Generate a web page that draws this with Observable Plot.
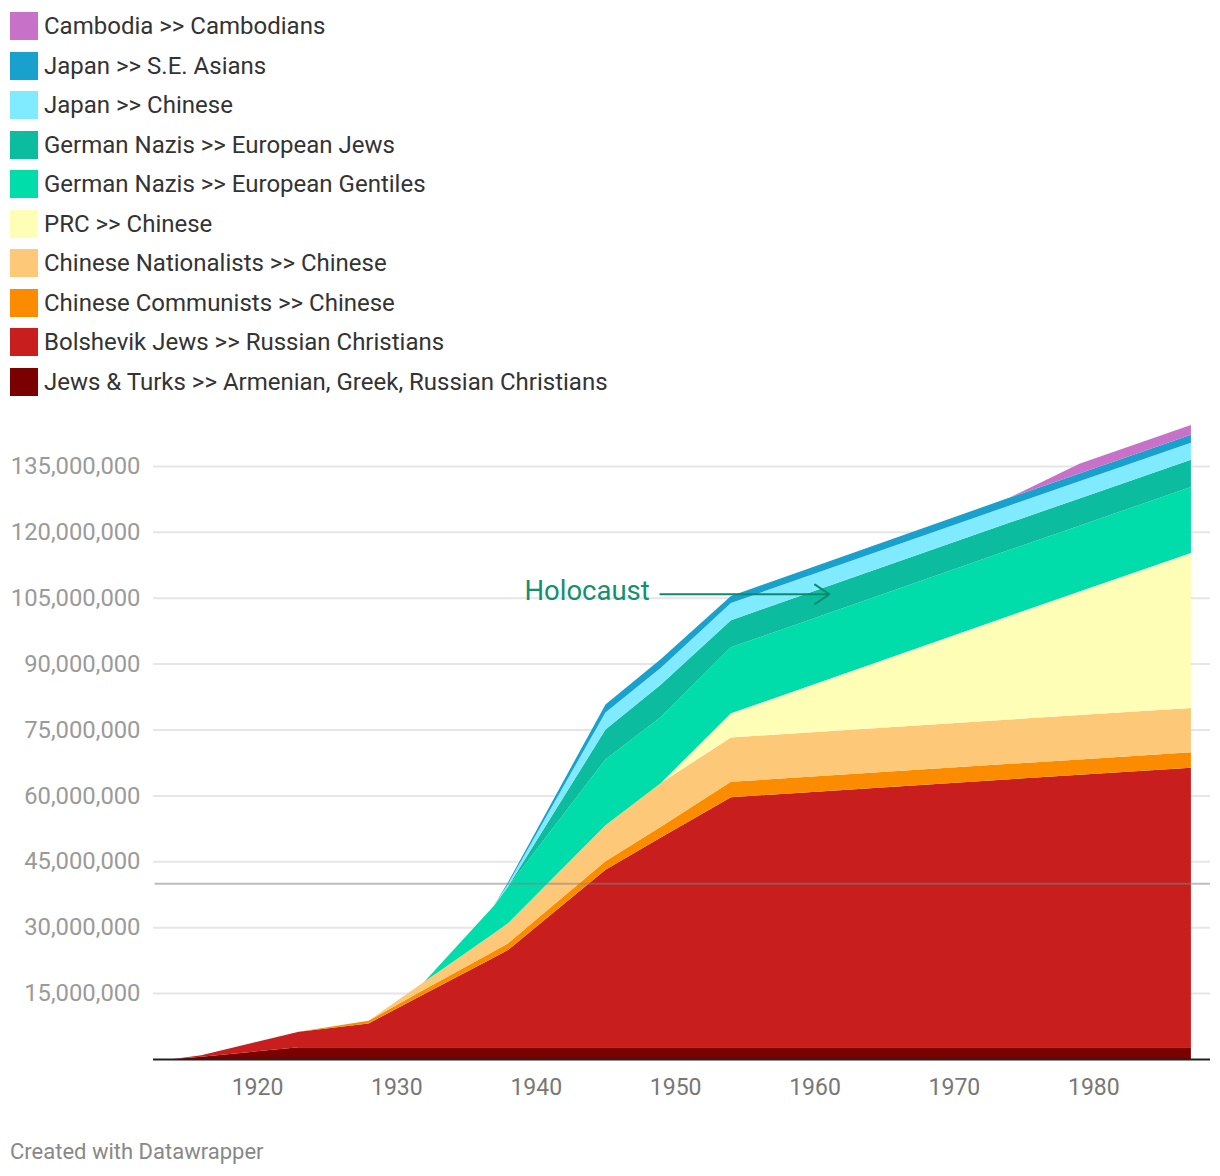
<!DOCTYPE html>
<html>
<head>
<meta charset="utf-8">
<script src="https://cdn.jsdelivr.net/npm/d3@7"></script>
<script src="https://cdn.jsdelivr.net/npm/@observablehq/plot@0.6"></script>
<style>
  html, body { margin: 0; padding: 0; background: #fff; font-family: Roboto, "Noto Sans", sans-serif; }
  #legend { position: absolute; left: 10px; top: 12px; }
  .item { display: flex; align-items: center; height: 28px; margin-bottom: 11.56px; font-size: 24px; color: #333; white-space: nowrap; }
  .sw { width: 28px; height: 28px; margin-right: 6px; flex: none; }
  #chart { position: absolute; left: 0; top: 410px; }
  #caption { position: absolute; left: 10px; top: 1140px; font-size: 22px; line-height: 24px; color: #888; }
</style>
</head>
<body>
<div id="legend"></div>
<div id="chart"></div>
<div id="caption">Created with Datawrapper</div>
<script>
// ---- data (values in millions of deaths, cumulative) ----
const years = [1914, 1916, 1923, 1928, 1932, 1937, 1938, 1945, 1949, 1954, 1974, 1979, 1987];

const seriesNames = [
  "Jews & Turks >> Armenian, Greek, Russian Christians",
  "Bolshevik Jews >> Russian Christians",
  "Chinese Communists >> Chinese",
  "Chinese Nationalists >> Chinese",
  "PRC >> Chinese",
  "German Nazis >> European Gentiles",
  "German Nazis >> European Jews",
  "Japan >> Chinese",
  "Japan >> S.E. Asians",
  "Cambodia >> Cambodians"
];
const seriesColors = ["#7b0000", "#c81e1e", "#fb8c00", "#fdc878", "#fefeb6", "#00dcaa", "#0cbc9f", "#80eaff", "#18a1cd", "#c771c8"];

const jewsTurks     = [0, 0.5, 2.7, 2.7, 2.7, 2.7, 2.7, 2.7, 2.7, 2.7, 2.7, 2.7, 2.7];
const bolshevik     = [0, 0.35, 3.5, 5.4, 12.1, 20.4, 22.1, 40.4, 47.8, 56.9, 61.0, 62.0, 63.6];
const communists    = [0, 0, 0, 0.6, 1.0, 1.4, 1.5, 1.9, 2.4, 3.5, 3.5, 3.5, 3.5];
const nationalists  = [0, 0, 0, 0, 1.8, 4.1, 4.6, 8.2, 10.0, 10.1, 10.1, 10.1, 10.1];
const prc           = [0, 0, 0, 0, 0, 0, 0, 0, 0, 5.5, 23.6, 28.1, 35.3];
const gentiles      = [0, 0, 0, 0, 0, 6.3, 8.3, 15.0, 15.0, 15.0, 15.0, 15.0, 15.0];
const europeanJews  = [0, 0, 0, 0, 0, 0, 0, 6.8, 7.4, 6.2, 6.2, 6.2, 6.2];
const japanChinese  = [0, 0, 0, 0, 0, 0, 0.6, 3.9, 3.8, 3.9, 3.9, 3.9, 3.9];
const japanSE       = [0, 0, 0, 0, 0, 0, 0.4, 1.8, 2.0, 1.6, 1.8, 1.8, 1.8];
const cambodia      = [0, 0, 0, 0, 0, 0, 0, 0, 0, 0, 0, 2.2, 2.2];

const seriesValues = [jewsTurks, bolshevik, communists, nationalists, prc, gentiles, europeanJews, japanChinese, japanSE, cambodia];

const yTicks = [15e6, 30e6, 45e6, 60e6, 75e6, 90e6, 105e6, 120e6, 135e6];
const xTicks = [1920, 1930, 1940, 1950, 1960, 1970, 1980];
const referenceLine = [40e6];
const annotationText = [{year: 1939.15, value: 106.6e6, label: "Holocaust"}];
const annotationArrow = [{x1: 1948.9, y1: 105.9e6, x2: 1961.03, y2: 105.9e6}];

// ---- table ----
const table = [];
seriesNames.forEach((name, i) => {
  years.forEach((yr, j) => {
    table.push({year: yr, series: name, value: seriesValues[i][j] * 1e6});
  });
});

// ---- legend (top of list = top of stack) ----
const legend = document.getElementById("legend");
for (let i = seriesNames.length - 1; i >= 0; i--) {
  const it = document.createElement("div");
  it.className = "item";
  const sw = document.createElement("div");
  sw.className = "sw";
  sw.style.background = seriesColors[i];
  const tx = document.createElement("span");
  tx.textContent = seriesNames[i];
  it.appendChild(sw); it.appendChild(tx);
  legend.appendChild(it);
}

const chart = Plot.plot({
  width: 1220,
  height: 700,
  marginLeft: 153,
  marginRight: 10,
  marginTop: 12,
  marginBottom: 51,
  style: {fontFamily: "Roboto, sans-serif", fontSize: "23px", background: "#fff", overflow: "visible"},
  x: {domain: [1912.54, 1988.37], label: null},
  y: {domain: [0, 145e6], label: null},
  color: {domain: seriesNames, range: seriesColors},
  marks: [
    Plot.ruleY(yTicks, {stroke: "#e6e6e6", strokeWidth: 2}),
    Plot.areaY(table, Plot.stackY({x: "year", y: "value", z: "series", fill: "series", order: seriesNames})),
    Plot.ruleY(referenceLine, {stroke: "#808080", strokeOpacity: 0.52, strokeWidth: 2, x1: 1912.66, x2: 1988.37}),
    Plot.ruleY([0], {stroke: "#222", strokeWidth: 2}),
    Plot.text(annotationText, {x: "year", y: "value", text: "label", textAnchor: "start", lineAnchor: "middle", fill: "#12906f", fontSize: 27.5}),
    Plot.arrow(annotationArrow, {x1: "x1", y1: "y1", x2: "x2", y2: "y2", stroke: "#0d8a6c", strokeWidth: 2, headLength: 13, headAngle: 68, bend: 0}),
    Plot.axisX(xTicks, {tickSize: 0, tickPadding: 19, tickFormat: d => String(d), fill: "#777"}),
    Plot.axisY(yTicks, {tickSize: 0, tickPadding: 13, tickFormat: d3.format(","), fill: "#9a9a9a", fontSize: 23.8})
  ]
});
document.getElementById("chart").appendChild(chart);
</script>
</body>
</html>
